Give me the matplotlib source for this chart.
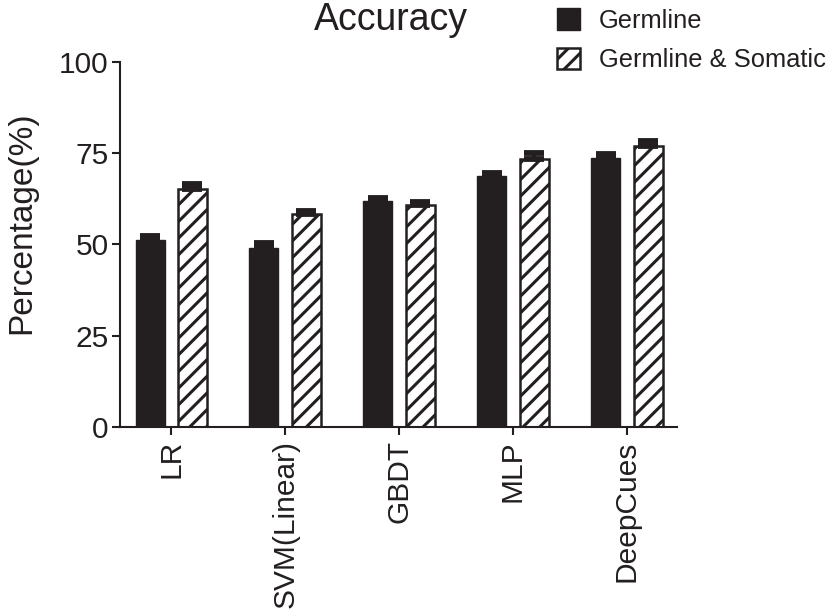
import matplotlib
matplotlib.use("Agg")
import matplotlib.pyplot as plt
import numpy as np
from matplotlib.patches import Patch

plt.rcParams["font.family"] = ["Liberation Sans", "DejaVu Sans"]
plt.rcParams["hatch.linewidth"] = 2.2

models = ["LR", "SVM(Linear)", "GBDT", "MLP", "DeepCues"]
germline = [51.2, 49.1, 61.9, 68.9, 73.6]
germline_err = [1.1, 1.3, 0.8, 0.8, 1.2]
somatic = [65.3, 58.3, 60.7, 73.5, 77.0]
somatic_err = [1.2, 1.0, 0.9, 1.5, 1.4]

DARK = "#231f20"

fig = plt.figure(figsize=(8.32, 6.12), dpi=100)
ax = fig.add_axes([0.1442, 0.3023, 0.6695, 0.5964])

x = np.arange(len(models))
w = 0.254
off = 0.186
ax.bar(x - off, germline, w, color=DARK, edgecolor=DARK, linewidth=1.0, zorder=2)
ax.bar(x + off, somatic, w, color="white", edgecolor=DARK, hatch="//",
       linewidth=1.8, zorder=2)
for xs, v, e in ((x - off, germline, germline_err), (x + off, somatic, somatic_err)):
    ax.errorbar(xs, v, yerr=[np.zeros(len(v)), e], fmt="none", ecolor=DARK,
                elinewidth=3, capsize=7, capthick=4.2, zorder=3)

ax.set_xlim(-0.45, 4.44)
ax.set_ylim(0, 100)
ax.set_yticks([0, 25, 50, 75, 100])
ax.set_xticks(x, models, rotation=90)
ax.tick_params(axis="both", labelsize=21.5, width=1.5, length=6, color=DARK,
               labelcolor=DARK)
ax.tick_params(axis="y", pad=2)
for s in ("top", "right"):
    ax.spines[s].set_visible(False)
for s in ("left", "bottom"):
    ax.spines[s].set_linewidth(1.5)
    ax.spines[s].set_color(DARK)

fig.text(22 / 832, 1 - 223 / 612, "Percentage(%)", fontsize=24, color=DARK,
         rotation=90, ha="center", va="center")
fig.text(391 / 832, 1 - 20 / 612, "Accuracy", fontsize=27, color=DARK,
         ha="center", va="center")

handles = [Patch(facecolor=DARK, edgecolor=DARK, label="Germline"),
           Patch(facecolor="white", edgecolor=DARK, hatch="//", linewidth=1.8,
                 label="Germline & Somatic")]
fig.legend(handles=handles, loc="upper right", bbox_to_anchor=(1.02, 1.024),
           frameon=False, fontsize=18.4, handlelength=0.9, handleheight=0.9,
           handletextpad=0.75, labelspacing=0.6, labelcolor=DARK)

fig.savefig("out.png", dpi=100)
